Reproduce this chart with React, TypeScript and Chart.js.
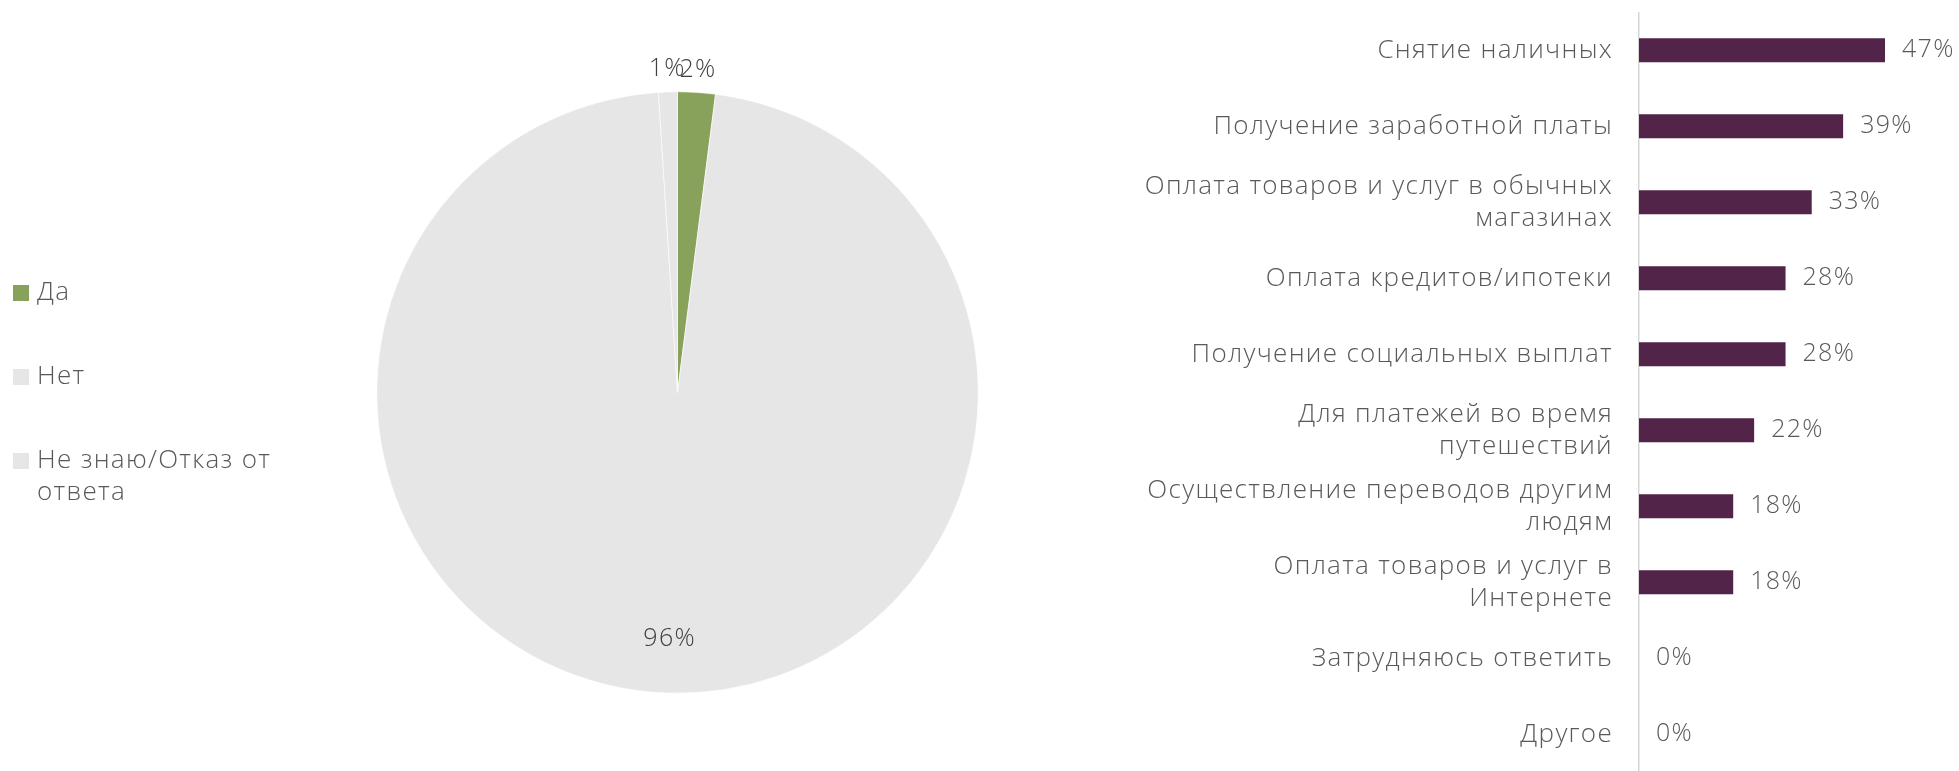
import React, { useEffect, useRef } from 'react';
import { Chart, registerables } from 'chart.js';

Chart.register(...registerables);

const FONT = '"Open Sans", sans-serif';
const FONT_WEIGHT = '300';
const LETTER_SPACING = '1.3px';

const pieLabels = ['Да', 'Нет', 'Не знаю/Отказ от ответа'];
const pieValues = [2, 96, 1];
const pieColors = ['#89a25b', '#e6e6e6', '#e7e6e6'];

const barCategories = [
  ['Снятие наличных'],
  ['Получение заработной платы'],
  ['Оплата товаров и услуг в обычных', 'магазинах'],
  ['Оплата кредитов/ипотеки'],
  ['Получение социальных выплат'],
  ['Для платежей во время', 'путешествий'],
  ['Осуществление переводов другим', 'людям'],
  ['Оплата товаров и услуг в', 'Интернете'],
  ['Затрудняюсь ответить'],
  ['Другое'],
];
const barValues = [47, 39, 33, 28, 28, 22, 18, 18, 0, 0];
const barAxisMax = 50;
const barColor = '#52244a';

const FONT_SIZE = 26;

const spacingPlugin = {
  id: 'spacing',
  afterInit(chart: any) {
    chart.ctx.letterSpacing = LETTER_SPACING;
  },
  beforeUpdate(chart: any) {
    chart.ctx.letterSpacing = LETTER_SPACING;
  },
  beforeDraw(chart: any) {
    chart.ctx.letterSpacing = LETTER_SPACING;
  },
};

const pieExtras = {
  id: 'pieExtras',
  afterDatasetsDraw(chart: any) {
    const ctx = chart.ctx;
    const ds = chart.data.datasets[0];
    const vals: number[] = ds.data;
    const total = vals.reduce((a, b) => a + b, 0);
    const meta = chart.getDatasetMeta(0);
    ctx.save();
    ctx.font = `${FONT_WEIGHT} ${FONT_SIZE - 1}px ${FONT}`;
    ctx.fillStyle = '#404040';
    ctx.textAlign = 'center';
    ctx.textBaseline = 'middle';
    meta.data.forEach((arc: any, i: number) => {
      const p = arc.getProps(['x', 'y', 'startAngle', 'endAngle', 'outerRadius'], true);
      const mid = (p.startAngle + p.endAngle) / 2;
      const share = vals[i] / total;
      const rr = share < 0.05 ? p.outerRadius + 23 : p.outerRadius * 0.82;
      ctx.fillText(`${Math.round(vals[i])}%`, p.x + Math.cos(mid) * rr, p.y + Math.sin(mid) * rr);
    });
    ctx.restore();
  },
  afterDraw(chart: any) {
    const ctx = chart.ctx;
    const labels: string[] = chart.data.labels;
    const colors: string[] = chart.data.datasets[0].backgroundColor;
    ctx.save();
    ctx.font = `${FONT_WEIGHT} ${FONT_SIZE}px ${FONT}`;
    ctx.textAlign = 'left';
    ctx.textBaseline = 'middle';
    const boxX = 13;
    const box = 16;
    const textX = 37;
    const firstY = 293;
    const step = 84;
    const lineH = 32;
    const maxW = 262;
    labels.forEach((lab, i) => {
      const cy = firstY + i * step;
      ctx.fillStyle = colors[i];
      ctx.fillRect(boxX, cy - box / 2, box, box);
      const words = lab.split(' ');
      const lines: string[] = [];
      let cur = '';
      words.forEach((w) => {
        const t = cur ? cur + ' ' + w : w;
        if (cur && ctx.measureText(t).width > maxW) {
          lines.push(cur);
          cur = w;
        } else cur = t;
      });
      if (cur) lines.push(cur);
      ctx.fillStyle = '#595959';
      lines.forEach((ln, j) => ctx.fillText(ln, textX, cy + j * lineH));
    });
    ctx.restore();
  },
};

const barValueLabels = {
  id: 'barValueLabels',
  afterDatasetsDraw(chart: any) {
    const ctx = chart.ctx;
    const meta = chart.getDatasetMeta(0);
    const vals: number[] = chart.data.datasets[0].data;
    ctx.save();
    ctx.font = `${FONT_WEIGHT} ${FONT_SIZE - 1}px ${FONT}`;
    ctx.fillStyle = '#595959';
    ctx.textAlign = 'left';
    ctx.textBaseline = 'middle';
    meta.data.forEach((bar: any, i: number) => {
      const p = bar.getProps(['x', 'y'], true);
      ctx.fillText(`${vals[i]}%`, p.x + 17, p.y);
    });
    ctx.restore();
  },
};

function PieChart() {
  const ref = useRef<HTMLCanvasElement | null>(null);
  useEffect(() => {
    const c = new Chart(ref.current as HTMLCanvasElement, {
      type: 'pie',
      data: {
        labels: pieLabels,
        datasets: [
          {
            data: pieValues,
            backgroundColor: pieColors,
            borderColor: '#ffffff',
            borderWidth: 0.6,
          },
        ],
      },
      options: {
        animation: false,
        responsive: false,
        maintainAspectRatio: false,
        layout: { padding: { left: 376.5, top: 91.5, right: 121.5, bottom: 77.5 } },
        plugins: { legend: { display: false }, tooltip: { enabled: false } },
      },
      plugins: [spacingPlugin, pieExtras],
    } as any);
    return () => c.destroy();
  }, []);
  return (
    <canvas
      ref={ref}
      width={1100}
      height={771}
      style={{ position: 'absolute', left: 0, top: 0, width: 1100, height: 771 }}
    />
  );
}

function BarChart() {
  const ref = useRef<HTMLCanvasElement | null>(null);
  useEffect(() => {
    const c = new Chart(ref.current as HTMLCanvasElement, {
      type: 'bar',
      data: {
        labels: barCategories,
        datasets: [
          {
            data: barValues,
            backgroundColor: barColor,
            barPercentage: 0.316,
            categoryPercentage: 1,
          },
        ],
      },
      options: {
        animation: false,
        responsive: false,
        maintainAspectRatio: false,
        indexAxis: 'y',
        layout: { padding: { top: 12.3, right: 58.3, bottom: 17.7, left: 0 } },
        plugins: { legend: { display: false }, tooltip: { enabled: false } },
        scales: {
          x: { display: false, min: 0, max: barAxisMax },
          y: {
            grid: { display: false, drawTicks: false },
            border: { display: true, color: '#d6d6d6', width: 1.5 },
            ticks: {
              padding: 26,
              color: '#595959',
              autoSkip: false,
              font: { family: FONT, size: FONT_SIZE, weight: FONT_WEIGHT, lineHeight: 1.24 },
            },
            afterFit(scale: any) {
              scale.width = 539;
              scale.paddingTop = 0;
              scale.paddingBottom = 0;
            },
          },
        },
      },
      plugins: [spacingPlugin, barValueLabels],
    } as any);
    return () => c.destroy();
  }, []);
  return (
    <canvas
      ref={ref}
      width={859}
      height={790}
      style={{ position: 'absolute', left: 1100, top: 0, width: 859, height: 790 }}
    />
  );
}

export default function App() {
  return (
    <div
      style={{
        position: 'absolute',
        left: 0,
        top: 0,
        width: 1959,
        height: 771,
        overflow: 'hidden',
        background: '#ffffff',
      }}
    >
      <PieChart />
      <BarChart />
    </div>
  );
}
